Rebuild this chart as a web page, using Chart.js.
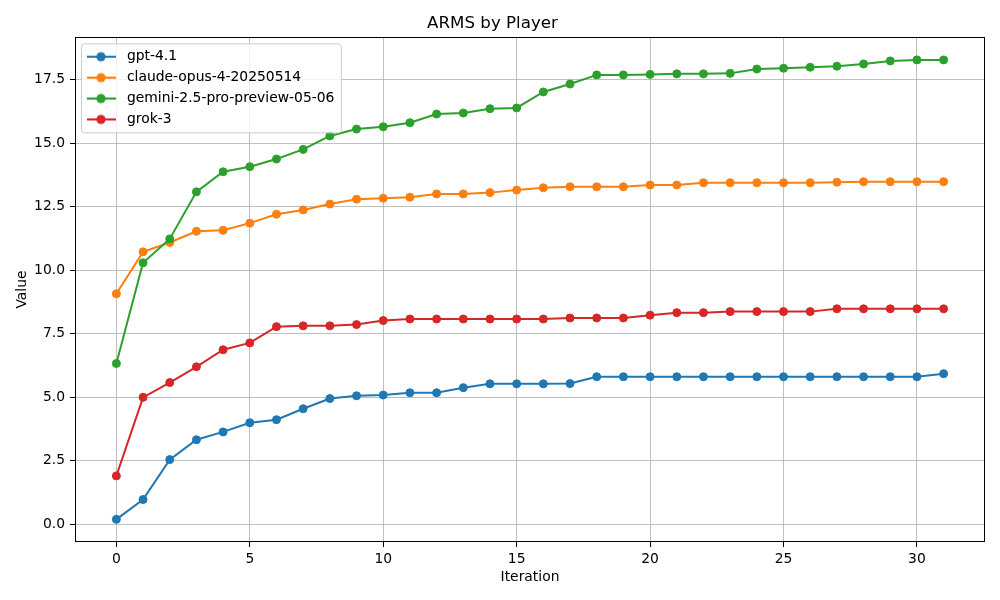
<!DOCTYPE html>
<html>
<head>
<meta charset="utf-8">
<title>ARMS by Player</title>
<script src="https://cdn.jsdelivr.net/npm/chart.js"></script>
<style>
  html, body { margin: 0; padding: 0; background: #fff; }
  #wrap { width: 1000px; height: 600px; }
</style>
</head>
<body>
<div id="wrap"><canvas id="armsChart" width="1000" height="600"></canvas></div>
<script>
// data
const iterations = [0, 1, 2, 3, 4, 5, 6, 7, 8, 9, 10, 11, 12, 13, 14, 15, 16, 17, 18, 19, 20, 21, 22, 23, 24, 25, 26, 27, 28, 29, 30, 31];
const playerNames = ['gpt-4.1', 'claude-opus-4-20250514', 'gemini-2.5-pro-preview-05-06', 'grok-3'];
const playerColors = ['#1f77b4', '#ff7f0e', '#2ca02c', '#d62728'];

const gptVals = [0.20, 0.98, 2.55, 3.33, 3.64, 4.00, 4.12, 4.55, 4.95, 5.06, 5.09, 5.18, 5.18, 5.38, 5.53, 5.53,
  5.53, 5.54, 5.81, 5.81, 5.81, 5.81, 5.81, 5.81, 5.81, 5.81, 5.81, 5.81, 5.81, 5.81, 5.81, 5.93];
const claudeVals = [9.07, 10.72, 11.09, 11.53, 11.57, 11.85, 12.20, 12.37, 12.60, 12.79, 12.83, 12.87, 13.00, 13.00, 13.05, 13.15,
  13.24, 13.28, 13.28, 13.28, 13.35, 13.35, 13.44, 13.44, 13.44, 13.44, 13.44, 13.46, 13.48, 13.48, 13.48, 13.48];
const geminiVals = [6.33, 10.29, 11.23, 13.08, 13.87, 14.07, 14.37, 14.75, 15.28, 15.55, 15.64, 15.80, 16.14, 16.18, 16.35, 16.38,
  17.01, 17.32, 17.68, 17.68, 17.70, 17.72, 17.72, 17.74, 17.91, 17.94, 17.98, 18.02, 18.11, 18.23, 18.27, 18.27];
const grokVals = [1.91, 5.00, 5.58, 6.20, 6.87, 7.14, 7.78, 7.81, 7.81, 7.86, 8.02, 8.08, 8.08, 8.08, 8.08, 8.08,
  8.08, 8.12, 8.12, 8.12, 8.23, 8.33, 8.33, 8.37, 8.37, 8.37, 8.37, 8.48, 8.48, 8.48, 8.48, 8.48];

const xTicks = [0, 5, 10, 15, 20, 25, 30];
const yTicks = [0, 2.5, 5, 7.5, 10, 12.5, 15, 17.5];

const allVals = [gptVals, claudeVals, geminiVals, grokVals];

Chart.defaults.font.family = 'DejaVu Sans';
Chart.defaults.color = '#000';

// little line+dot icons for the legend, like matplotlib's
function makeIcon(color) {
  const c = document.createElement('canvas');
  c.width = 38;
  c.height = 14;
  const g = c.getContext('2d');
  g.strokeStyle = color;
  g.lineWidth = 2;
  g.beginPath();
  g.moveTo(5, 7);
  g.lineTo(34, 7);
  g.stroke();
  g.fillStyle = color;
  g.beginPath();
  g.arc(19, 7, 4.6, 0, Math.PI * 2);
  g.fill();
  return c;
}
const icons = playerColors.map(makeIcon);

const datasets = playerNames.map((name, i) => ({
  label: name,
  data: allVals[i].map((v, j) => ({ x: iterations[j], y: v })),
  borderColor: playerColors[i],
  backgroundColor: playerColors[i],
  pointBackgroundColor: playerColors[i],
  pointBorderColor: playerColors[i],
  borderWidth: 2,
  pointRadius: 4,
  pointBorderWidth: 1,
  pointHoverRadius: 4,
  tension: 0,
  order: playerNames.length - i
}));

// axes frame + legend box drawn over the lines
const framePlugin = {
  id: 'frame',
  afterDatasetsDraw(chart) {
    const ctx = chart.ctx;
    const a = chart.chartArea;
    ctx.save();
    ctx.strokeStyle = '#000';
    ctx.lineWidth = 1;
    ctx.strokeRect(a.left + 0.5, a.top + 0.5, a.right - a.left - 1, a.bottom - a.top - 1);

    const lg = chart.legend;
    const hb = lg.legendHitBoxes;
    if (hb && hb.length) {
      let x0 = Infinity, y0 = Infinity, x1 = -Infinity, y1 = -Infinity;
      hb.forEach(h => {
        x0 = Math.min(x0, h.left);
        y0 = Math.min(y0, h.top);
        x1 = Math.max(x1, h.left + h.width);
        y1 = Math.max(y1, h.top + h.height);
      });
      const bx = x0 - 0.5, by = y0 - 6, bw = x1 - x0 + 7.5, bh = y1 - y0 + 12.5;
      ctx.beginPath();
      ctx.roundRect(bx, by, bw, bh, 3);
      ctx.fillStyle = 'rgba(255,255,255,0.8)';
      ctx.fill();
      ctx.strokeStyle = '#cccccc';
      ctx.lineWidth = 1;
      ctx.stroke();
      ctx.restore();
      lg.draw();
      return;
    }
    ctx.restore();
  }
};

new Chart(document.getElementById('armsChart'), {
  type: 'line',
  data: { datasets: datasets },
  options: {
    responsive: false,
    animation: false,
    layout: { padding: { left: 0, right: 15, top: 0, bottom: 0 } },
    plugins: {
      title: {
        display: true,
        text: 'ARMS by Player',
        font: { size: 16.67, weight: 'normal' },
        color: '#000',
        padding: { top: 13.5, bottom: 3.5 }
      },
      legend: {
        position: 'chartArea',
        align: 'start',
        // empty title only pushes the items down below the plot's top edge
        title: { display: true, text: '', font: { size: 1 }, padding: { top: 0, bottom: 41.6 } },
        labels: {
          usePointStyle: true,
          pointStyleWidth: 38,
          padding: 7,
          font: { size: 13.89 },
          color: '#000',
          sort: (a, b) => a.datasetIndex - b.datasetIndex,
          generateLabels: (chart) => {
            const items = Chart.defaults.plugins.legend.labels.generateLabels(chart);
            return items.map(it => Object.assign(it, { pointStyle: icons[it.datasetIndex] }));
          }
        }
      },
      tooltip: { enabled: false }
    },
    scales: {
      x: {
        type: 'linear',
        min: -1.55,
        max: 32.55,
        afterBuildTicks: (axis) => { axis.ticks = xTicks.map(v => ({ value: v })); },
        afterFit: (scale) => { scale.height = 58; },
        grid: { color: '#b0b0b0', lineWidth: 0.8, tickColor: '#000', tickLength: 5, tickWidth: 1 },
        border: { display: false },
        ticks: { font: { size: 13.89 }, color: '#000', padding: 4, maxRotation: 0, callback: v => v },
        title: { display: true, text: 'Iteration', font: { size: 13.89 }, color: '#000', padding: { top: 0, bottom: 14.2 } }
      },
      y: {
        type: 'linear',
        min: -0.69,
        max: 19.17,
        afterBuildTicks: (axis) => { axis.ticks = yTicks.map(v => ({ value: v })); },
        afterFit: (scale) => { scale.width = 75; },
        grid: { color: '#b0b0b0', lineWidth: 0.8, tickColor: '#000', tickLength: 5, tickWidth: 1 },
        border: { display: false },
        ticks: { font: { size: 13.89 }, color: '#000', padding: 5, callback: v => v.toFixed(1) },
        title: { display: true, text: 'Value', font: { size: 13.89 }, color: '#000', padding: { top: 14, bottom: 0 } }
      }
    }
  },
  plugins: [framePlugin]
});
</script>
</body>
</html>
